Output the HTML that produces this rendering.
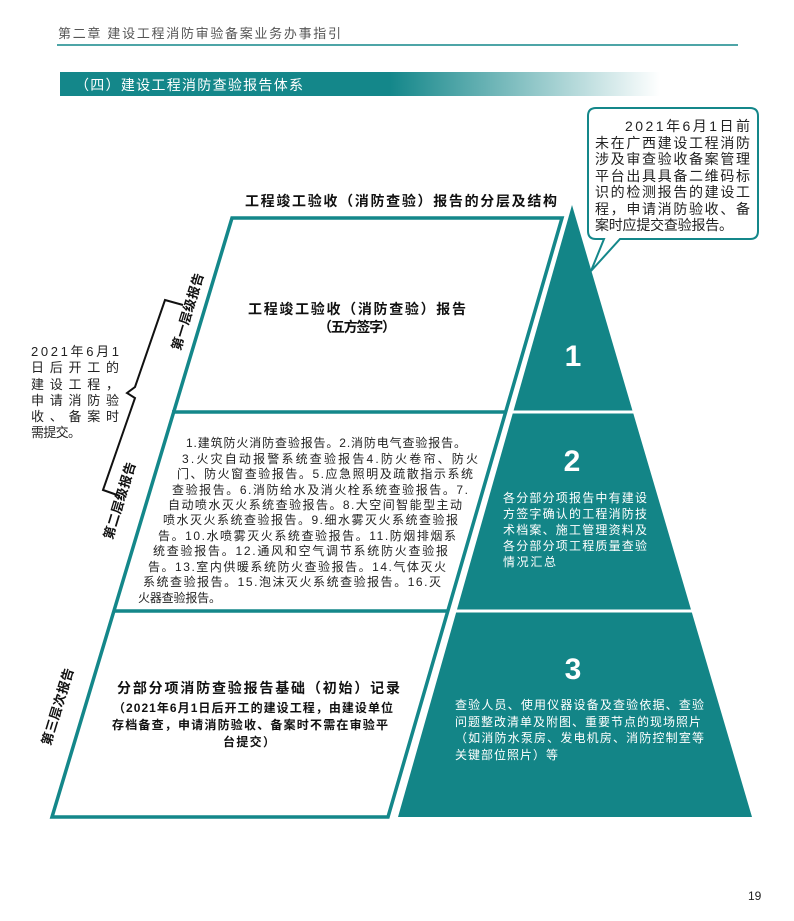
<!DOCTYPE html>
<html><head><meta charset="utf-8"><style>
html,body{margin:0;padding:0;background:#fff;}
svg{display:block;}
text{font-family:"Liberation Sans","Noto Sans CJK SC",sans-serif;}
</style></head><body>
<svg width="794" height="921" viewBox="0 0 794 921" xmlns="http://www.w3.org/2000/svg">
<defs>
<linearGradient id="g" x1="0" x2="1" y1="0" y2="0">
<stop offset="0" stop-color="#14878a"/><stop offset="0.55" stop-color="#14878a"/><stop offset="1" stop-color="#ffffff"/>
</linearGradient>
</defs>
<text x="58" y="38" font-size="13" fill="#555" textLength="283">第二章  建设工程消防审验备案业务办事指引</text>
<line x1="57" y1="45" x2="738" y2="45" stroke="#14878a" stroke-width="1.5"/>
<rect x="60" y="72" width="600" height="24" fill="url(#g)"/>
<text x="75" y="90" font-size="14" fill="#fff" textLength="228">（四）建设工程消防查验报告体系</text>

<text x="245" y="206" font-size="14" font-weight="bold" fill="#111" textLength="312">工程竣工验收（消防查验）报告的分层及结构</text>

<polygon points="232,218 562,218 388,817 52,817" fill="#fff" stroke="#14878a" stroke-width="3.5"/>
<line x1="172" y1="412" x2="505" y2="412" stroke="#14878a" stroke-width="3.5"/>
<line x1="114" y1="611" x2="448" y2="611" stroke="#14878a" stroke-width="3.5"/>

<polygon points="572,205 752,817 398,817" fill="#138587"/>
<line x1="511" y1="412" x2="700" y2="412" stroke="#fff" stroke-width="3"/>
<line x1="453" y1="611" x2="760" y2="611" stroke="#fff" stroke-width="3"/>

<text x="573" y="366" font-size="30" font-weight="bold" fill="#fff" text-anchor="middle">1</text>
<text x="572" y="471" font-size="30" font-weight="bold" fill="#fff" text-anchor="middle">2</text>
<text x="573" y="679" font-size="30" font-weight="bold" fill="#fff" text-anchor="middle">3</text>

<g font-size="12" fill="#fff">
<text x="503" y="502" textLength="144">各分部分项报告中有建设</text>
<text x="503" y="518" textLength="144">方签字确认的工程消防技</text>
<text x="503" y="534" textLength="144">术档案、施工管理资料及</text>
<text x="503" y="550" textLength="144">各分部分项工程质量查验</text>
<text x="503" y="566" textLength="53">情况汇总</text>
</g>
<g font-size="12" fill="#fff">
<text x="455" y="709" textLength="249">查验人员、使用仪器设备及查验依据、查验</text>
<text x="455" y="726" textLength="246">问题整改清单及附图、重要节点的现场照片</text>
<text x="455" y="742" textLength="249">（如消防水泵房、发电机房、消防控制室等</text>
<text x="455" y="759" textLength="103">关键部位照片）等</text>
</g>

<text x="248" y="314" font-size="14" font-weight="bold" fill="#111" textLength="218">工程竣工验收（消防查验）报告</text>
<text x="318" y="332" font-size="14" font-weight="bold" fill="#111" textLength="78">（五方签字）</text>

<g font-size="12" fill="#222">
<text x="186" y="447" textLength="280">1.建筑防火消防查验报告。2.消防电气查验报告。</text>
<text x="182" y="463" textLength="296">3.火灾自动报警系统查验报告4.防火卷帘、防火</text>
<text x="177" y="478" textLength="296">门、防火窗查验报告。5.应急照明及疏散指示系统</text>
<text x="172" y="494" textLength="296">查验报告。6.消防给水及消火栓系统查验报告。7.</text>
<text x="168" y="509" textLength="294">自动喷水灭火系统查验报告。8.大空间智能型主动</text>
<text x="163" y="524" textLength="295">喷水灭火系统查验报告。9.细水雾灭火系统查验报</text>
<text x="158" y="540" textLength="298">告。10.水喷雾灭火系统查验报告。11.防烟排烟系</text>
<text x="153" y="555" textLength="295">统查验报告。12.通风和空气调节系统防火查验报</text>
<text x="148" y="571" textLength="298">告。13.室内供暖系统防火查验报告。14.气体灭火</text>
<text x="143" y="586" textLength="298">系统查验报告。15.泡沫灭火系统查验报告。16.灭</text>
<text x="138" y="602" textLength="83">火器查验报告。</text>
</g>

<text x="117" y="693" font-size="14" font-weight="bold" fill="#111" textLength="283">分部分项消防查验报告基础（初始）记录</text>
<g font-size="12" font-weight="bold" fill="#111">
<text x="113" y="712" textLength="280">（2021年6月1日后开工的建设工程，由建设单位</text>
<text x="112" y="729" textLength="276">存档备查，申请消防验收、备案时不需在审验平</text>
<text x="223" y="746" textLength="52">台提交）</text>
</g>

<text transform="translate(192,313) rotate(-73)" font-size="13" font-weight="bold" fill="#111" text-anchor="middle" textLength="80">第一层级报告</text>
<text transform="translate(124,502) rotate(-73)" font-size="13" font-weight="bold" fill="#111" text-anchor="middle" textLength="80">第二层级报告</text>
<text transform="translate(62,708) rotate(-73)" font-size="13" font-weight="bold" fill="#111" text-anchor="middle" textLength="80">第三层次报告</text>

<polyline points="183,305 165,300 135,387 127,393 135,398 103,490 120,496" fill="none" stroke="#111" stroke-width="2"/>

<g font-size="13" fill="#222">
<text x="31" y="356" textLength="88">2021年6月1</text>
<text x="31" y="372" textLength="88">日后开工的</text>
<text x="31" y="389" textLength="88">建设工程，</text>
<text x="31" y="405" textLength="88">申请消防验</text>
<text x="31" y="421" textLength="88">收、备案时</text>
<text x="31" y="437" textLength="50">需提交。</text>
</g>

<path d="M596,108 H750 Q758,108 758,116 V231 Q758,239 750,239 H620 L591,271 L604,239 H596 Q588,239 588,231 V116 Q588,108 596,108 Z" fill="#fff" stroke="#14878a" stroke-width="2"/>
<g font-size="14" fill="#222">
<text x="625" y="131" textLength="125">2021年6月1日前</text>
<text x="595" y="148" textLength="155">未在广西建设工程消防</text>
<text x="595" y="164" textLength="155">涉及审查验收备案管理</text>
<text x="595" y="181" textLength="155">平台出具具备二维码标</text>
<text x="595" y="197" textLength="155">识的检测报告的建设工</text>
<text x="595" y="214" textLength="155">程，申请消防验收、备</text>
<text x="595" y="230" textLength="138">案时应提交查验报告。</text>
</g>

<text x="748" y="900" font-size="12" fill="#222">19</text>
</svg>
</body></html>
